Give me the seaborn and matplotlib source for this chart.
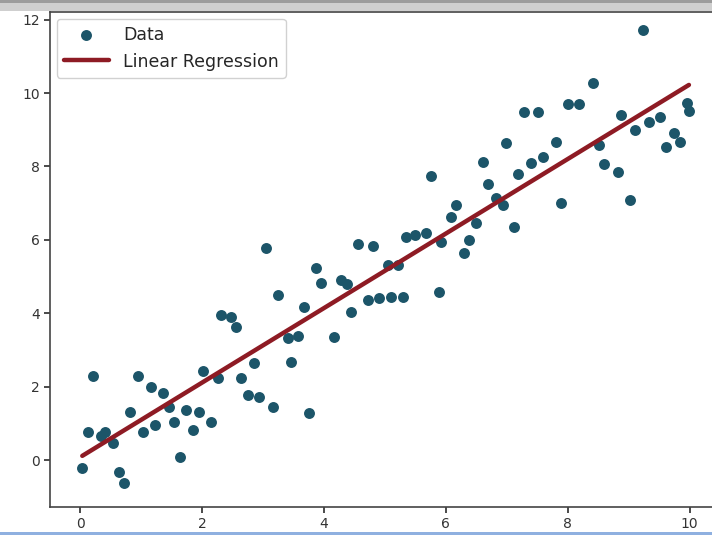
import numpy as np
import pandas as pd
import matplotlib
matplotlib.use("Agg")
import matplotlib.pyplot as plt
from matplotlib.patches import Rectangle
import seaborn as sns

# Observed samples
x_vals = [0.03, 0.12, 0.21, 0.33, 0.41, 0.53, 0.63, 0.71, 0.82, 0.94,
          1.02, 1.15, 1.23, 1.35, 1.45, 1.53, 1.63, 1.73, 1.84, 1.94,
          2.02, 2.14, 2.25, 2.30, 2.47, 2.55, 2.63, 2.75, 2.85, 2.93,
          3.04, 3.16, 3.24, 3.40, 3.45, 3.57, 3.67, 3.75, 3.87, 3.95,
          4.16, 4.28, 4.38, 4.44, 4.56, 4.72, 4.80, 4.90, 5.05, 5.10,
          5.21, 5.30, 5.35, 5.50, 5.67, 5.76, 5.89, 5.92, 6.09, 6.17,
          6.30, 6.38, 6.50, 6.61, 6.69, 6.83, 6.94, 6.99, 7.11, 7.19,
          7.29, 7.40, 7.52, 7.60, 7.81, 7.89, 8.01, 8.19, 8.42, 8.52,
          8.60, 8.83, 8.88, 9.02, 9.10, 9.23, 9.34, 9.51, 9.62, 9.74,
          9.84, 9.95, 9.99]
y_vals = [-0.22, 0.76, 2.29, 0.65, 0.76, 0.46, -0.33, -0.63, 1.31, 2.29,
          0.76, 1.99, 0.95, 1.83, 1.44, 1.04, 0.08, 1.36, 0.82, 1.31,
          2.43, 1.04, 2.23, 3.95, 3.90, 3.62, 2.23, 1.77, 2.64, 1.72,
          5.78, 1.44, 4.50, 3.32, 2.67, 3.38, 4.17, 1.28, 5.23, 4.82,
          3.35, 4.90, 4.80, 4.03, 5.89, 4.36, 5.83, 4.41, 5.31, 4.44,
          5.31, 4.44, 6.08, 6.13, 6.19, 7.74, 4.58, 5.94, 6.62, 6.95,
          5.64, 5.99, 6.46, 8.12, 7.52, 7.14, 6.95, 8.64, 6.35, 7.79,
          9.48, 8.09, 9.48, 8.26, 8.67, 7.00, 9.70, 9.70, 10.27, 8.58,
          8.06, 7.85, 9.40, 7.10, 8.99, 11.72, 9.21, 9.35, 8.53, 8.91,
          8.66, 9.73, 9.50]

x_ticks = [0, 2, 4, 6, 8, 10]
y_ticks = [0, 2, 4, 6, 8, 10, 12]

df = pd.DataFrame({"x": x_vals, "y": y_vals})

sns.set_theme(style="ticks")
plt.rcParams["font.family"] = ["DejaVu Sans"]

fig = plt.figure(figsize=(7.12, 5.35), dpi=100)
W, H = 712, 535
ax = fig.add_axes([50 / W, (H - 507) / H, 670 / W, 495 / H])

sns.scatterplot(data=df, x="x", y="y", ax=ax, s=62, color="#1c5569",
                linewidth=0, label="Data", zorder=2)
sns.regplot(data=df, x="x", y="y", ax=ax, scatter=False, ci=None,
            color="#8e1b24", label="Linear Regression",
            line_kws={"lw": 3.2, "zorder": 3})

ax.set_xlim(-0.5, 10.5)
ax.set_ylim(-1.28, 12.21)
ax.set_xticks(x_ticks)
ax.set_yticks(y_ticks)
ax.set_xlabel("")
ax.set_ylabel("")
ax.tick_params(labelsize=10, colors="#333333", length=4)
for sp in ax.spines.values():
    sp.set_color("#444444")
    sp.set_linewidth(1.2)

ax.legend(loc="upper left", fontsize=12.5, handlelength=2.6,
          frameon=True, borderaxespad=0.4, framealpha=0.9)

# window chrome around the figure
fig.add_artist(Rectangle((0, (H - 11) / H), 1, 11 / H, transform=fig.transFigure,
                         facecolor="#cfcfcf", edgecolor="none", zorder=5))
fig.add_artist(Rectangle((0, (H - 3) / H), 1, 3 / H, transform=fig.transFigure,
                         facecolor="#9c9c9c", edgecolor="none", zorder=6))
fig.add_artist(Rectangle((0, 0), 1, 3 / H, transform=fig.transFigure,
                         facecolor="#8fb0e0", edgecolor="none", zorder=5))

fig.savefig("out.png", dpi=100)
